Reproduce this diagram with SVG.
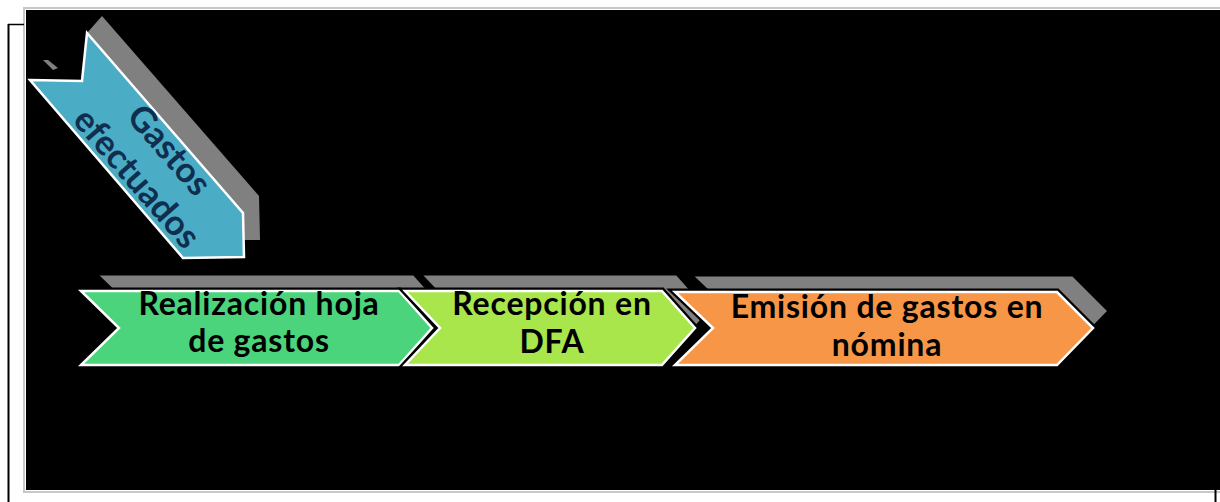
<svg xmlns="http://www.w3.org/2000/svg" width="1220" height="502" viewBox="0 0 1220 502">
<style>
.shadow{fill:#808080;stroke:#000;stroke-width:3;stroke-linejoin:miter}
.bshadow{fill:#808080}
.edge{fill:none;stroke:#000;stroke-width:7;stroke-linejoin:miter}
.shape{stroke:#fff;stroke-width:2.5;stroke-linejoin:miter}
.lbl{font-family:Lato,"Liberation Sans",sans-serif;font-weight:bold;font-size:32px;letter-spacing:0.8px;fill:#000;text-anchor:middle}
.blbl{font-family:Lato,"Liberation Sans",sans-serif;font-weight:bold;font-size:35px;fill:#102E4E;text-anchor:middle}
</style>
<rect x="0" y="0" width="1220" height="502" fill="#fff"/>
<rect x="24" y="8" width="1210" height="484" fill="none" stroke="#c8c8c8" stroke-width="2"/>
<rect x="26" y="10" width="1194" height="480" fill="#000"/>
<g id="frame-lines" fill="none" stroke="#000">
<path d="M8 24.5H24" stroke-width="1.5"/>
<path d="M8.5 24V502" stroke-width="2"/>
<path d="M1215.5 490V502" stroke-width="2"/>
</g>
<g id="connectors"></g>
<g id="gastos-efectuados">
<polygon class="bshadow" points="102,16 259,196 260,240 244,240 87,33"/>
<polygon class="bshadow" points="43,60 48,60 58,68 53,70"/>
<polygon class="shape" fill="#4BACC6" points="30,80 82,81 87,33 243,213 244,257 183,258"/>
<g transform="translate(152,165) rotate(49)">
<text class="blbl" x="0" y="-11">Gastos</text>
<text class="blbl" x="0" y="32">efectuados</text>
</g>
</g>
<g id="realizacion">
<polygon class="shadow" transform="translate(15,-17)" points="81,291 399,291 432,328 399,365 81,365 119,328"/>
<polygon class="edge" points="81,291 399,291 432,328 399,365 81,365 119,328"/>
<polygon class="shape" fill="#4BD47B" points="81,291 399,291 432,328 399,365 81,365 119,328"/>
<text class="lbl" x="259" y="315">Realización hoja</text>
<text class="lbl" x="259" y="352">de gastos</text>
</g>
<g id="recepcion">
<polygon class="shadow" transform="translate(15,-17)" points="405,291 662,291 695,328 662,365 405,365 440,328"/>
<polygon class="edge" points="405,291 662,291 695,328 662,365 405,365 440,328"/>
<polygon class="shape" fill="#A9E64B" points="405,291 662,291 695,328 662,365 405,365 440,328"/>
<text class="lbl" x="552" y="315">Recepción en</text>
<text class="lbl" x="552" y="353">DFA</text>
</g>
<g id="emision">
<polygon class="shadow" transform="translate(16,-17)" points="675,292 1057,292 1093,328 1057,365 675,365 713,328"/>
<polygon class="edge" points="675,292 1057,292 1093,328 1057,365 675,365 713,328"/>
<polygon class="shape" fill="#F79646" points="675,292 1057,292 1093,328 1057,365 675,365 713,328"/>
<text class="lbl" x="887" y="318">Emisión de gastos en</text>
<text class="lbl" x="887" y="356">nómina</text>
</g>
</svg>
